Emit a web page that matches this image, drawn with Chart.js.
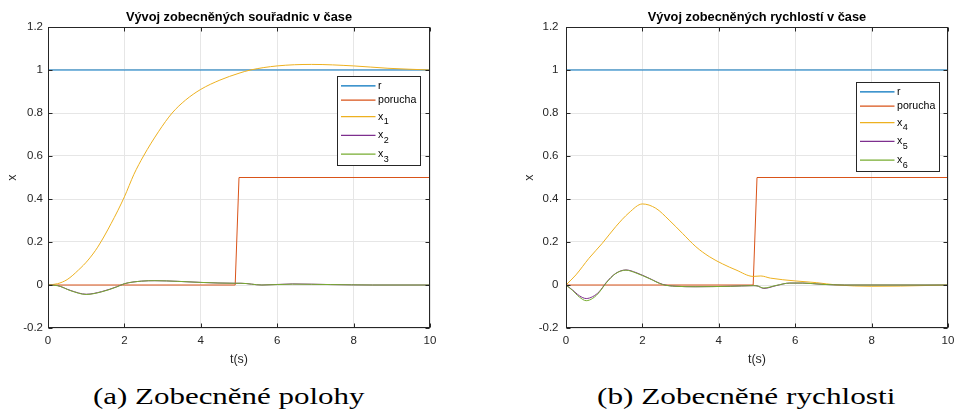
<!DOCTYPE html>
<html>
<head>
<meta charset="utf-8">
<script src="https://cdn.jsdelivr.net/npm/chart.js@4.4.1/dist/chart.umd.min.js"></script>
<style>
    body { margin: 0; background: #fff; width: 954px; height: 416px; position: relative; overflow: hidden; }
    canvas { position: absolute; top: 0; }
    #polohyChart { left: 0; }
    #rychlostiChart { left: 477px; }
    .caption { position: absolute; top: 384px; font-family: "Liberation Serif", "Times New Roman", serif; font-size: 24px; line-height: 24px; color: #000; white-space: nowrap; transform-origin: 0 0; }
</style>
</head>
<body>
<canvas id="polohyChart" width="477" height="370"></canvas>
<canvas id="rychlostiChart" width="477" height="370"></canvas>
<div class="caption" id="captionA">(a) Zobecněné polohy</div>
<div class="caption" id="captionB">(b) Zobecněné rychlosti</div>
<script>
// osy
const timeTicks = [0, 2, 4, 6, 8, 10];
const valueTicks = [-0.2, 0, 0.2, 0.4, 0.6, 0.8, 1, 1.2];

// reference a porucha (stejné pro oba grafy)
const tRef = [0, 10];
const ref = [1, 1];
const tPorucha = [0, 4.9, 5.0, 10];
const porucha = [0, 0, 0.5, 0.5];

// zobecněné souřadnice
const tX1 = [0, 0.25, 0.5, 0.8, 1.05, 1.3, 1.65, 2.0, 2.25, 2.5, 2.9, 3.25, 3.6, 4.0, 4.5, 5.0, 5.3, 6.0, 6.9, 8.0, 8.9, 10];
const x1 = [0, 0.006, 0.025, 0.07, 0.116, 0.176, 0.285, 0.41, 0.515, 0.6, 0.715, 0.8, 0.86, 0.91, 0.953, 0.985, 1.0, 1.019, 1.026, 1.019, 1.008, 1.0];
const tX23 = [0, 0.25, 0.6, 1.0, 1.4, 1.8, 2.0, 2.45, 2.8, 3.4, 4.0, 4.9, 5.05, 5.6, 6.4, 7.4, 8.5, 10];
const x2 = [0, -0.003, -0.026, -0.043, -0.031, -0.008, 0.006, 0.018, 0.02, 0.017, 0.012, 0.008, 0.008, 0.0, 0.005, 0.002, 0, 0];
const x3 = [0, -0.003, -0.027, -0.044, -0.032, -0.009, 0.006, 0.018, 0.02, 0.017, 0.012, 0.008, 0.008, 0.0, 0.004, 0.002, 0, 0];

// zobecněné rychlosti
const tX4 = [0, 0.26, 0.6, 0.95, 1.3, 1.65, 2.0, 2.35, 2.7, 3.05, 3.4, 3.75, 4.1, 4.45, 4.9, 5.1, 5.35, 6.0, 6.55, 7.1, 8.0, 8.75, 10];
const x4 = [0, 0.047, 0.124, 0.194, 0.271, 0.336, 0.377, 0.357, 0.302, 0.24, 0.178, 0.132, 0.098, 0.07, 0.04, 0.042, 0.032, 0.019, 0.011, 0.0, -0.006, -0.005, 0];
const tX56 = [0, 0.17, 0.35, 0.53, 0.7, 0.87, 1.05, 1.3, 1.57, 1.83, 2.18, 2.53, 2.88, 3.4, 4.3, 4.9, 5.0, 5.18, 5.5, 5.86, 6.2, 6.7, 7.3, 10];
const x5 = [0, -0.023, -0.05, -0.063, -0.054, -0.031, 0.011, 0.054, 0.07, 0.058, 0.031, 0.003, -0.006, -0.008, -0.006, -0.003, -0.004, -0.016, -0.003, 0.009, 0.009, 0.003, 0, 0];
const x6 = [0, -0.025, -0.056, -0.073, -0.062, -0.034, 0.009, 0.053, 0.069, 0.056, 0.03, 0.002, -0.006, -0.008, -0.006, -0.003, -0.004, -0.014, -0.002, 0.009, 0.009, 0.003, 0, 0];

const FONT = '"Liberation Sans", Arial, sans-serif';
const AXIS_COLOR = '#262626';
const GRID_COLOR = '#e6e6e6';

function lineSet(label, t, v, color, order, smooth) {
    return {
        label: label,
        data: t.map((ti, i) => ({ x: ti, y: v[i] })),
        borderColor: color,
        borderWidth: 1,
        pointRadius: 0,
        fill: false,
        tension: 0,
        cubicInterpolationMode: smooth ? 'monotone' : 'default',
        order: order
    };
}

// rámeček os s dovnitř směřujícími značkami (jako v MATLABu)
const axesBox = {
    id: 'axesBox',
    afterDatasetsDraw(chart) {
        const { ctx, chartArea: a, scales } = chart;
        ctx.save();
        ctx.strokeStyle = AXIS_COLOR;
        ctx.lineWidth = 1;
        const L = Math.round(a.left) + 0.5, R = Math.round(a.right) - 0.5;
        const T = Math.round(a.top) + 0.5, B = Math.round(a.bottom) - 0.5;
        ctx.strokeRect(L, T, R - L, B - T);
        ctx.beginPath();
        timeTicks.forEach(v => {
            const px = Math.round(scales.x.getPixelForValue(v)) + 0.5;
            ctx.moveTo(px, B); ctx.lineTo(px, B - 4);
            ctx.moveTo(px, T); ctx.lineTo(px, T + 4);
        });
        valueTicks.forEach(v => {
            const py = Math.round(scales.y.getPixelForValue(v)) + 0.5;
            ctx.moveTo(L, py); ctx.lineTo(L + 4, py);
            ctx.moveTo(R, py); ctx.lineTo(R - 4, py);
        });
        ctx.stroke();
        ctx.restore();
    }
};

// legenda uvnitř grafu, popisky "x_1" kreslí dolní index
const boxLegend = {
    id: 'boxLegend',
    afterDraw(chart, args, opts) {
        const { ctx, chartArea: a } = chart;
        const items = chart.data.datasets.map(ds => ({ text: ds.label.split('_'), color: ds.borderColor }));
        const heights = items.map(it => it.text.length > 1 ? 18.7 : 14.3);
        const centers = [];
        let c = 9.4;
        heights.forEach((h, i) => {
            if (i > 0) c += (heights[i - 1] + h) / 2;
            centers.push(c);
        });
        const boxH = c + heights[heights.length - 1] / 2 + 2;
        const x0 = Math.round(a.right - opts.right - opts.width) + 0.5;
        const y0 = Math.round(a.top + opts.top) + 0.5;
        ctx.save();
        ctx.fillStyle = '#fff';
        ctx.fillRect(x0, y0, opts.width, boxH);
        ctx.strokeStyle = AXIS_COLOR;
        ctx.lineWidth = 1;
        ctx.strokeRect(x0, y0, opts.width, Math.round(boxH));
        items.forEach((it, i) => {
            const cy = y0 + centers[i];
            ctx.strokeStyle = it.color;
            ctx.lineWidth = 1.3;
            ctx.beginPath();
            ctx.moveTo(x0 + 3.5, cy);
            ctx.lineTo(x0 + 38, cy);
            ctx.stroke();
            ctx.fillStyle = '#000';
            ctx.textBaseline = 'middle';
            ctx.textAlign = 'left';
            ctx.font = '10.6px ' + FONT;
            ctx.fillText(it.text[0], x0 + 40.5, cy);
            if (it.text.length > 1) {
                const w = ctx.measureText(it.text[0]).width;
                ctx.font = '9px ' + FONT;
                ctx.fillText(it.text[1], x0 + 40.5 + w + 0.5, cy + 5);
            }
        });
        ctx.restore();
    }
};

function createChart(canvasId, title, datasets, layout, legendPos) {
    const ctx = document.getElementById(canvasId).getContext('2d');
    return new Chart(ctx, {
        type: 'line',
        data: { datasets: datasets },
        plugins: [axesBox, boxLegend],
        options: {
            responsive: false,
            animation: false,
            devicePixelRatio: 1,
            layout: { padding: { left: layout.padLeft, right: layout.padRight, top: 0, bottom: 0 } },
            plugins: {
                legend: { display: false },
                tooltip: { enabled: false },
                title: {
                    display: true,
                    text: title,
                    fullSize: false,
                    color: '#000',
                    font: { family: FONT, size: 12.8, weight: 'bold' },
                    padding: { top: 9.8, bottom: 1.84 }
                },
                boxLegend: legendPos
            },
            scales: {
                x: {
                    type: 'linear',
                    min: 0,
                    max: 10,
                    afterBuildTicks: s => { s.ticks = timeTicks.map(v => ({ value: v })); },
                    afterFit: s => { s.height = 42; s.paddingLeft = 0; s.paddingRight = 0; },
                    grid: { color: GRID_COLOR, drawTicks: false },
                    border: { display: false },
                    ticks: { padding: 6.1, maxRotation: 0, color: AXIS_COLOR, font: { family: FONT, size: 11.5 } },
                    title: { display: true, text: 't(s)', color: AXIS_COLOR, font: { family: FONT, size: 12.5 }, padding: { top: 0, bottom: 3.2 } }
                },
                y: {
                    type: 'linear',
                    min: -0.2,
                    max: 1.2,
                    afterBuildTicks: s => { s.ticks = valueTicks.map(v => ({ value: v })); },
                    afterFit: s => { s.width = layout.yWidth; s.paddingTop = 0; s.paddingBottom = 0; },
                    grid: { color: GRID_COLOR, drawTicks: false },
                    border: { display: false },
                    ticks: {
                        padding: layout.tickPad,
                        color: AXIS_COLOR,
                        font: { family: FONT, size: 11.5 },
                        callback: v => String(Math.round(v * 10) / 10)
                    },
                    title: { display: true, text: 'x', color: AXIS_COLOR, font: { family: FONT, size: 12.5 }, padding: { top: 5.5, bottom: 0 } }
                }
            }
        }
    });
}

createChart('polohyChart', 'Vývoj zobecněných souřadnic v čase', [
    lineSet('r', tRef, ref, '#0072BD', 5, false),
    lineSet('porucha', tPorucha, porucha, '#D95319', 4, false),
    lineSet('x_1', tX1, x1, '#EDB120', 3, true),
    lineSet('x_2', tX23, x2, '#7E2F8E', 2, true),
    lineSet('x_3', tX23, x3, '#77AC30', 1, true)
], { padLeft: 0, padRight: 47, yWidth: 48, tickPad: 5 }, { right: 10, top: 49, width: 83 });

createChart('rychlostiChart', 'Vývoj zobecněných rychlostí v čase', [
    lineSet('r', tRef, ref, '#0072BD', 5, false),
    lineSet('porucha', tPorucha, porucha, '#D95319', 4, false),
    lineSet('x_4', tX4, x4, '#EDB120', 3, true),
    lineSet('x_5', tX56, x5, '#7E2F8E', 2, true),
    lineSet('x_6', tX56, x6, '#77AC30', 1, true)
], { padLeft: 40, padRight: 6, yWidth: 49, tickPad: 7.5 }, { right: 9, top: 55, width: 83 });

// popisky pod grafy, roztažené na šířku sazby
function placeCaption(id, center, width) {
    const el = document.getElementById(id);
    const w = el.offsetWidth;
    el.style.left = (center - width / 2) + 'px';
    el.style.transform = 'scaleX(' + (width / w) + ')';
}
placeCaption('captionA', 229.4, 272);
placeCaption('captionB', 746, 298);
</script>
</body>
</html>
